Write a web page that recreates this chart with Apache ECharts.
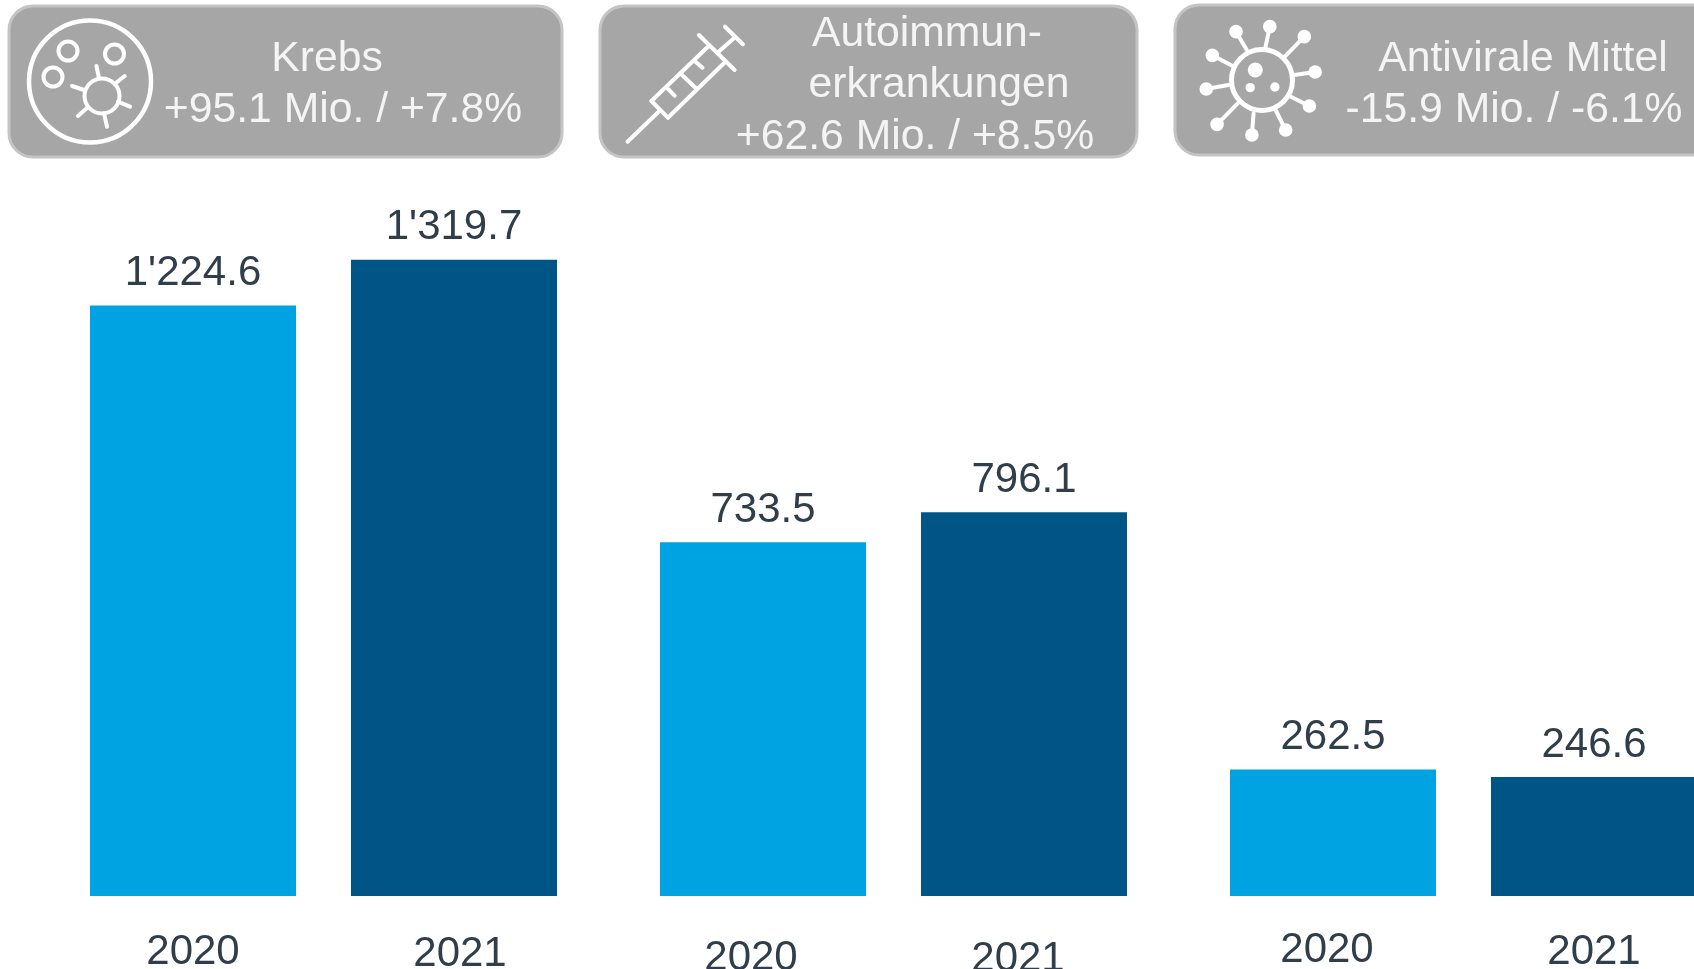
<!DOCTYPE html>
<html>
<head>
<meta charset="utf-8">
<style>
  html, body { margin: 0; padding: 0; background: #fff; overflow: hidden; }
  #main { width: 1694px; height: 969px; }
</style>
<script src="https://cdn.jsdelivr.net/npm/echarts@6/dist/echarts.min.js"></script>
</head>
<body>
<div id="main"></div>
<script>
// Daten
var years = ['2020', '2021'];
var krebs = [1224.6, 1319.7];
var autoimmun = [733.5, 796.1];
var antiviral = [262.5, 246.6];
var barColors = ['#00a3e2', '#005587'];

// Kopfzeilen
var krebsHead = ['Krebs', '+95.1 Mio. / +7.8%'];
var autoimmunHead = ['Autoimmun-', 'erkrankungen', '+62.6 Mio. / +8.5%'];
var antiviralHead = ['Antivirale Mittel', '-15.9 Mio. / -6.1%'];

var FONT = '"Liberation Sans", Arial, sans-serif';
var LABEL_COLOR = '#2f3e4a';
var HEAD_COLOR = '#f4f4f4';

// Layout der drei Gruppen (Label-Versatz je Balken: [x, padding oben])
var panels = [
  { data: krebs, left: 62.5, labelShift: [[0, 5], [6, 7]] },
  { data: autoimmun, left: 632.5, labelShift: [[-12, 11], [-6, 12]] },
  { data: antiviral, left: 1202.5, labelShift: [[-6, 3], [0, 5]] }
];

function formatValue(v) {
  var s = v.toFixed(1);
  return v >= 1000 ? s.charAt(0) + "'" + s.slice(1) : s;
}

var grids = [], xAxes = [], yAxes = [], series = [];
panels.forEach(function (p, i) {
  grids.push({ left: p.left, top: 221, width: 522, height: 675, outerBoundsMode: 'none' });
  xAxes.push({
    type: 'category',
    gridIndex: i,
    data: years.map(function (y, k) {
      var dx = p.labelShift[k][0], padTop = p.labelShift[k][1];
      return {
        value: y,
        textStyle: { padding: [padTop, dx < 0 ? -dx * 2 : 0, 0, dx > 0 ? dx * 2 : 0] }
      };
    }),
    axisLine: { show: false },
    axisTick: { show: false },
    axisLabel: { margin: 30, fontFamily: FONT, fontSize: 42, color: LABEL_COLOR, interval: 0 }
  });
  yAxes.push({ type: 'value', gridIndex: i, min: 0, max: 1400, show: false });
  series.push({
    type: 'bar',
    xAxisIndex: i,
    yAxisIndex: i,
    barWidth: 206,
    silent: true,
    data: p.data.map(function (v, k) {
      return { value: v, itemStyle: { color: barColors[k] } };
    }),
    label: {
      show: true,
      position: 'top',
      distance: 11,
      fontFamily: FONT,
      fontSize: 42,
      color: LABEL_COLOR,
      formatter: function (d) { return formatValue(d.value); }
    }
  });
});

// Grafik-Helfer fuer Boxen und Icons
var gfx = [];
function box(x, y, w, h) {
  gfx.push({
    type: 'rect',
    shape: { x: x, y: y, width: w, height: h, r: 24 },
    style: { fill: '#a6a6a6', stroke: '#c4c4c4', lineWidth: 3 }
  });
}
function text(t, x, y) {
  gfx.push({
    type: 'text',
    x: x, y: y,
    style: { text: t, fill: HEAD_COLOR, font: '42.7px ' + FONT, align: 'center', verticalAlign: 'middle' }
  });
}
function line(x1, y1, x2, y2, w) {
  gfx.push({
    type: 'line',
    shape: { x1: x1, y1: y1, x2: x2, y2: y2 },
    style: { stroke: '#fff', lineWidth: w || 4, lineCap: 'round' }
  });
}
function ring(cx, cy, r, w) {
  gfx.push({
    type: 'circle',
    shape: { cx: cx, cy: cy, r: r },
    style: { fill: 'none', stroke: '#fff', lineWidth: w || 4 }
  });
}
function dot(cx, cy, r) {
  gfx.push({ type: 'circle', shape: { cx: cx, cy: cy, r: r }, style: { fill: '#fff' } });
}

box(9, 6, 553, 151);
box(600, 6, 537, 151);
box(1175, 5, 560, 150);

// Krebs-Icon
ring(90, 81.5, 61, 4.5);
ring(68, 51, 9.5);
ring(114.5, 54, 9.5);
ring(53, 77, 9.5);
ring(102, 96, 17.5);
[[96.4, 66, 99, 78], [124.7, 76, 114.5, 84], [72, 86, 84, 90],
 [130, 106.7, 118, 101.7], [78, 116, 88, 107], [107, 126.7, 104, 113.3]].forEach(function (l) {
  line(l[0], l[1], l[2], l[3]);
});

// Spritze
[[627.5, 141.7, 658.6, 111.7], [651.4, 101, 667.9, 117.7], [651.4, 101, 707.9, 46.7],
 [667.9, 117.7, 723.9, 63.3], [698.9, 35, 734.6, 70], [718.6, 51.7, 733.9, 38.3],
 [725, 26.7, 742.9, 44.3], [695.4, 61.7, 702.5, 67.7], [681, 74, 696, 88.3],
 [667.5, 88.3, 674.6, 95.7]].forEach(function (l) {
  line(l[0], l[1], l[2], l[3]);
});

// Virus
function vx(x) { return 1164 + x / 2.958; }
function vy(y) { return y / 3; }
ring(1262, 80, 30.5, 5);
dot(vx(270), vy(210), 7.5);
dot(vx(255), vy(263), 4.7);
dot(vx(328), vy(261), 4.7);
[[245, 150, 213, 95], [300, 142, 313, 80], [355, 172, 415, 110], [385, 225, 447, 216],
 [375, 290, 430, 318], [330, 330, 360, 390], [265, 340, 260, 405], [218, 310, 157, 373],
 [190, 255, 125, 267], [203, 198, 143, 166]].forEach(function (s) {
  line(vx(s[0]), vy(s[1]), vx(s[2]), vy(s[3]), 4);
  dot(vx(s[2]), vy(s[3]), 6.8);
});

// Kopftexte
text(krebsHead[0], 327, 59);
text(krebsHead[1], 343, 110);
text(autoimmunHead[0], 927, 34);
text(autoimmunHead[1], 939, 85);
text(autoimmunHead[2], 915, 137);
text(antiviralHead[0], 1523, 59);
text(antiviralHead[1], 1514, 110);

var myChart = echarts.init(document.getElementById('main'));
myChart.setOption({
  animation: false,
  backgroundColor: '#fff',
  grid: grids,
  xAxis: xAxes,
  yAxis: yAxes,
  series: series,
  graphic: gfx
});
window.addEventListener('resize', function () { myChart.resize(); });
</script>
</body>
</html>
